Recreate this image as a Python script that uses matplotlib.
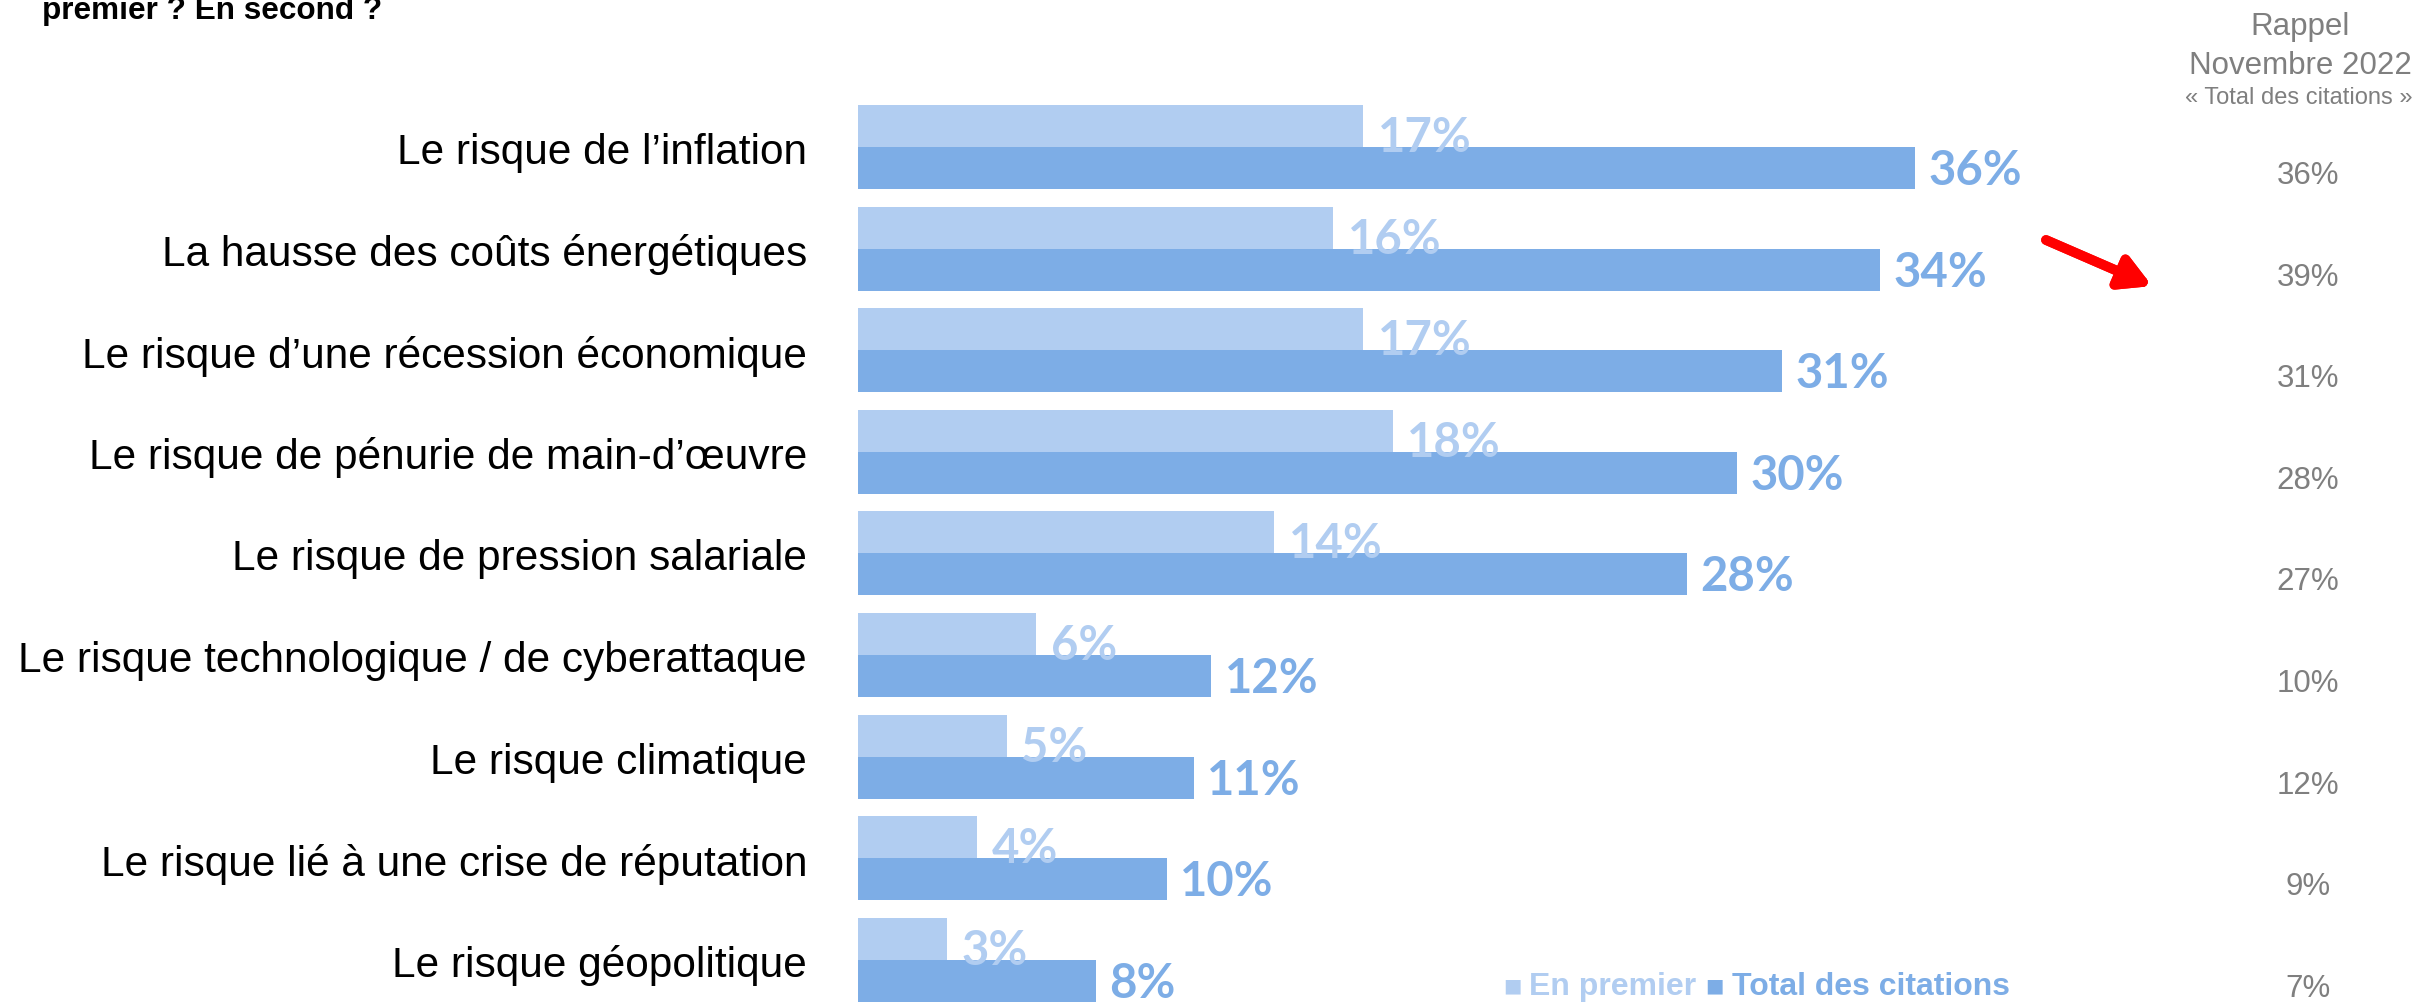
import numpy as np
import matplotlib.pyplot as plt
import matplotlib.transforms as mtransforms

# ---------------- DONNÉES ----------------
categories = [
    "Le risque de l\u2019inflation",
    "La hausse des coûts énergétiques",
    "Le risque d\u2019une récession économique",
    "Le risque de pénurie de main-d\u2019œuvre",
    "Le risque de pression salariale",
    "Le risque technologique / de cyberattaque",
    "Le risque climatique",
    "Le risque lié à une crise de réputation",
    "Le risque géopolitique",
]
en_premier = [17, 16, 17, 18, 14, 6, 5, 4, 3]
# longueurs lues sur les barres (valeurs non arrondies)
total_citations = [35.6, 34.4, 31.1, 29.6, 27.9, 11.9, 11.3, 10.4, 8.0]
total_etiquettes = [36, 34, 31, 30, 28, 12, 11, 10, 8]
rappel_nov2022 = [36, 39, 31, 28, 27, 10, 12, 9, 7]

titre = "premier ? En second ?"
entete_rappel = ["Rappel", "Novembre 2022"]
sous_titre_rappel = "« Total des citations »"
legende = ["En premier", "Total des citations"]

# ---------------- STYLE ----------------
c_clair = "#b1cdf1"
c_fonce = "#7dade6"
c_gris = "#7f7f7f"
police = ["Liberation Sans", "DejaVu Sans"]
police_valeurs = ["Lato", "DejaVu Sans"]

W, H = 2415, 1002
px_pct = 29.7        # pixels par point de %
x0 = 858             # début des barres
pas = 101.6          # espacement entre groupes (px)
y_centre0 = 147      # centre du premier groupe (px)
h = 42 / pas         # hauteur d'une barre

fig = plt.figure(figsize=(W / 100, H / 100), dpi=100)
ax = fig.add_axes([x0 / W, 0, 1 - x0 / W, 1])
ax.set_xlim(0, (W - x0) / px_pct)
haut = -y_centre0 / pas
ax.set_ylim(haut + H / pas, haut)
ax.axis("off")

y = np.arange(len(categories))
ax.barh(y - h / 2, en_premier, height=h, color=c_clair)
ax.barh(y + h / 2, total_citations, height=h, color=c_fonce)

# étiquettes des valeurs
for yi, v1, v2, e2 in zip(y, en_premier, total_citations, total_etiquettes):
    ax.text(v1 + 0.5, yi - h / 2 + 12 / pas, f"{v1}%", color=c_clair,
            fontsize=34, fontweight="bold", family=police_valeurs,
            va="center", ha="left")
    ax.text(v2 + 0.45, yi + h / 2 + 3 / pas, f"{e2}%", color=c_fonce,
            fontsize=34, fontweight="bold", family=police_valeurs,
            va="center", ha="left")

# libellés des catégories
for yi, lab in zip(y, categories):
    ax.text(-51 / px_pct, yi + 6 / pas, lab, fontsize=30.5, family=police,
            color="black", ha="right", va="center")

# colonne de rappel
tr = mtransforms.blended_transform_factory(fig.transFigure, ax.transData)
for yi, v in zip(y, rappel_nov2022):
    ax.text(2308 / W, yi + h / 2 + 8 / pas, f"{v}%", transform=tr,
            fontsize=22.5, family=police, color=c_gris,
            ha="center", va="center")

fig.text(2300 / W, 1 - 35 / H, entete_rappel[0], fontsize=22.5,
         family=police, color=c_gris, ha="center", va="baseline")
fig.text(2300 / W, 1 - 74 / H, entete_rappel[1], fontsize=22.5,
         family=police, color=c_gris, ha="center", va="baseline")
fig.text(2299 / W, 1 - 104 / H, sous_titre_rappel, fontsize=17,
         family=police, color=c_gris, ha="center", va="baseline")

# titre (coupé en haut)
fig.text(42 / W, 1 - 19 / H, titre, fontsize=22.7, fontweight="bold",
         family=police, color="black", ha="left", va="baseline")

# flèche rouge
fig.add_artist(plt.annotate(
    "", xy=(2152 / W, 1 - 286 / H), xytext=(2046 / W, 1 - 240 / H),
    xycoords="figure fraction", textcoords="figure fraction",
    arrowprops=dict(arrowstyle="-|>,head_length=0.9,head_width=0.5",
                    mutation_scale=20, color="#ff0000", lw=7,
                    shrinkA=0, shrinkB=0)))

# légende : carré + libellé, enchaînés
y_leg = 1 - 995 / H
x_cur = 1503
fig.canvas.draw()
for lab, col in zip(legende, [c_clair, c_fonce]):
    carre = fig.text(x_cur / W, y_leg + 4 / H, "\u25a0", fontsize=14,
                     family=["DejaVu Sans"], color=col,
                     ha="left", va="baseline")
    fig.canvas.draw()
    x_cur = carre.get_window_extent().x1 + 8
    t = fig.text(x_cur / W, y_leg, lab + " ", fontsize=23,
                 fontweight="bold", family=police, color=col,
                 ha="left", va="baseline")
    fig.canvas.draw()
    x_cur = t.get_window_extent().x1

fig.savefig("out.png", dpi=100)
